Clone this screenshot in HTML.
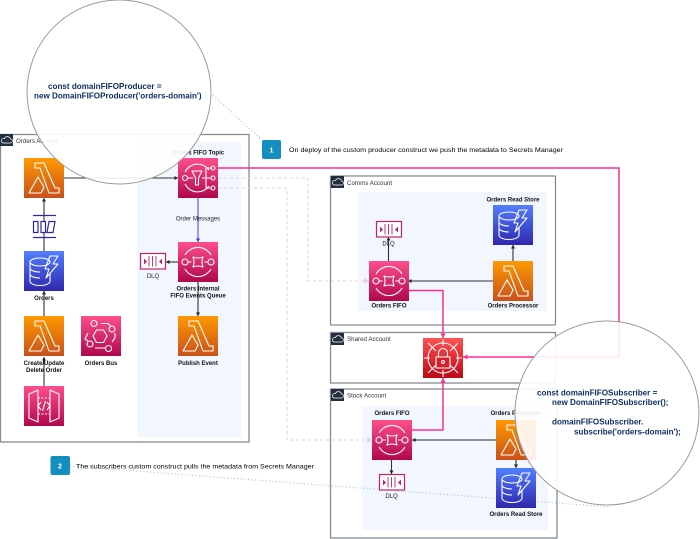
<!DOCTYPE html>
<html><head><meta charset="utf-8"><style>
html,body{margin:0;padding:0;background:#fff;width:700px;height:539px;overflow:hidden}
svg{display:block;filter:blur(.35px)}
text{font-family:"Liberation Sans",sans-serif;fill:#222}
.l{font-size:6px;font-weight:bold;text-anchor:middle;fill:#111}
.r{font-size:6px;text-anchor:middle;fill:#222}
.a{font-size:6.2px;fill:#333}
.n{font-size:6.6px;fill:#000}
.c{font-size:8.1px;font-weight:bold;fill:#0f2f66}
.box{fill:#fff;stroke:#868b92;stroke-width:1.300}
.pan{fill:#f2f6fe}
.k{stroke:#333;stroke-width:1.100;fill:none}
.p{stroke:#ff2f92;stroke-width:1.500;fill:none}
.d{stroke:#e0cfe8;stroke-width:1.100;fill:none;stroke-dasharray:3 3}
.b{stroke:#a4c0ee;stroke-width:1.200;fill:none;stroke-dasharray:1 2.500}
.g{fill:none;stroke:#fff;stroke-width:1.100;stroke-linejoin:round}
</style></head><body>
<svg width="700" height="539" viewBox="0 0 700 539" xmlns="http://www.w3.org/2000/svg">
<defs>
<linearGradient id="o" x1="0" y1="1" x2="0" y2="0"><stop offset="0" stop-color="#c8511b"/><stop offset="1" stop-color="#f90"/></linearGradient>
<linearGradient id="m" x1="0" y1="1" x2="0" y2="0"><stop offset="0" stop-color="#b0084d"/><stop offset="1" stop-color="#ff4f8b"/></linearGradient>
<linearGradient id="u" x1="0" y1="1" x2="0" y2="0"><stop offset="0" stop-color="#2e27ad"/><stop offset="1" stop-color="#527fff"/></linearGradient>
<linearGradient id="e" x1="0" y1="1" x2="0" y2="0"><stop offset="0" stop-color="#bd0816"/><stop offset="1" stop-color="#ff5252"/></linearGradient>
<g id="lam"><rect width="40" height="40" fill="url(#o)"/><path class="g" d="M11 5h9l11 25h4v5H25L16 10h-5z M14 19l6 10-3 6H5z"/></g>
<g id="dyn"><rect width="40" height="40" fill="url(#u)"/><g class="g"><ellipse cx="16" cy="11" rx="10" ry="4"/><path d="M6 11v6c0 2 4 4 10 4M6 17v6c0 2 4 4 10 4M6 23v7c0 2.500 4 4.500 10 4.500s10-2 10-4.500v-8"/><path d="M26 5h8l-5 8h5L22 27l3-9h-4z"/></g></g>
<g id="sns"><rect width="40" height="40" fill="url(#m)"/><g class="g"><path d="M31 12A14 14 0 0 0 7 14M7 26a14 14 0 0 0 24 2"/><circle cx="7" cy="20" r="2.500"/><circle cx="35" cy="10" r="2"/><circle cx="35" cy="20" r="2"/><circle cx="35" cy="30" r="2"/><path d="M10 20h5M24 20h9M28 10v20M28 10h5M28 30h5M14 13h10l-3.500 7v7h-3v-7z"/></g></g>
<g id="sqs"><rect width="40" height="40" fill="url(#m)"/><g class="g"><path d="M7 13a15 15 0 0 1 26 0M7 27a15 15 0 0 0 26 0"/><circle cx="7" cy="20" r="3"/><circle cx="33" cy="20" r="3"/><path d="M15 15q5 2 10 0q-2 5 0 10q-5-2-10 0q2-5 0-10z"/><path d="M10 20h3.500M26.500 20H30"/></g></g>
<g id="api"><rect width="40" height="40" fill="url(#m)"/><g class="g"><path d="M5 8l9-4v32l-9-4zM35 8l-9-4v32l9-4z"/><path d="M14 12h12M14 28h12" stroke-dasharray="2 1.500"/><path d="M17 16l-3 4 3 4M23 16l3 4-3 4M21.500 15l-3 10"/></g></g>
<g id="bus"><rect width="40" height="40" fill="url(#m)"/><g class="g"><path d="M15.500 14h7l3.500 6-3.500 6.500h-7L12 20z"/><circle cx="13" cy="7.500" r="3"/><circle cx="31" cy="13" r="3"/><circle cx="9" cy="28" r="3"/><circle cx="27.500" cy="32.500" r="3"/><path d="M20 7.500h7l3 3M34 17v5l-3 4M7 17l-3 6 3 2M14 32h10"/></g></g>
<g id="sec"><rect width="40" height="40" fill="url(#e)"/><g class="g"><circle cx="20" cy="20" r="15"/><path d="M20 1v7M20 32v7M1 20h6M33 20h6M5 5l8 8M35 5l-8 8M5 35l8-8M35 35l-8-8"/><rect x="13" y="19" width="14" height="11" fill="#d3222c"/><path d="M15.500 19v-4a4.500 4.500 0 0 1 9 0v4"/><circle cx="20" cy="24" r="1.400"/></g></g>
<g id="dlq"><rect x=".5" y=".5" width="25" height="15.500" fill="#fff" stroke="#c2245f" stroke-width="1.200"/><g stroke="#c2245f" stroke-width=".9" fill="none"><path d="M9 3v10.500M12.500 3v10.500M16 3v10.500"/></g><path d="M4 5.500l3 3-3 3zM22 5.500l-3 3 3 3z" fill="#c2245f"/></g>
<g id="cl"><rect width="13" height="12" fill="#232f3e"/><path d="M3 9h7.500a2 2 0 0 0 0-4 3.200 3.200 0 0 0-6-.5A2.300 2.300 0 0 0 3 9z" fill="none" stroke="#fff" stroke-width=".7"/></g>
<marker id="ak" markerWidth="5" markerHeight="5" refX="3.500" refY="2" orient="auto" markerUnits="userSpaceOnUse"><path d="M0 0l3.500 2L0 4z" fill="#222"/></marker>
<marker id="ab" markerWidth="5" markerHeight="5" refX="3.500" refY="2" orient="auto" markerUnits="userSpaceOnUse"><path d="M0 0l3.500 2L0 4z" fill="#3333cc"/></marker>
<marker id="ap" markerWidth="6" markerHeight="6" refX="4.500" refY="2.500" orient="auto" markerUnits="userSpaceOnUse"><path d="M0 0l4.500 2.500L0 5z" fill="#ff2f92"/></marker>
<marker id="ad" markerWidth="6" markerHeight="7" refX="5" refY="3" orient="auto" markerUnits="userSpaceOnUse"><path d="M0 0l5 3-5 3z" fill="#e0cfe8"/></marker>
</defs>

<rect class="box" x="0.500" y="134.500" width="248.500" height="307.500"/>
<rect class="pan" x="137" y="142" width="104" height="295"/>
<rect class="box" x="330.500" y="176" width="225" height="149" rx="1"/>
<rect class="pan" x="358" y="192" width="189" height="119"/>
<rect class="box" x="330.500" y="332.500" width="225" height="50.500"/>
<rect class="box" x="330.500" y="389" width="226.500" height="149"/>
<rect class="pan" x="362" y="406" width="186" height="124"/>
<use href="#cl" x="0" y="134"/><use href="#cl" x="331" y="176"/><use href="#cl" x="331" y="333"/><use href="#cl" x="331" y="389"/>
<text class="a" x="16" y="143">Orders Account</text>
<text class="a" x="347" y="185">Comms Account</text>
<text class="a" x="347" y="341">Shared Account</text>
<text class="a" x="347" y="397.500">Stock Account</text>

<!-- connectors -->
<path class="k" d="M64 178H178" marker-end="url(#ak)"/>
<path class="k" d="M44 251V198" marker-end="url(#ak)"/>
<path class="k" d="M44 316V291" marker-end="url(#ak)"/>
<path class="k" d="M44 386V357" marker-end="url(#ak)"/>
<path d="M198 198V242" stroke="#3d3dd0" stroke-width="1" fill="none" marker-end="url(#ab)"/>
<path class="k" d="M178 262H166" marker-end="url(#ak)"/>
<path class="k" d="M198 282V316" marker-end="url(#ak)"/>
<path class="k" d="M388.500 261V237" marker-end="url(#ak)"/>
<path class="k" d="M493 281H408" marker-end="url(#ak)"/>
<path class="k" d="M513 261V245" marker-end="url(#ak)"/>
<path class="k" d="M496 440H412" marker-end="url(#ak)"/>
<path class="k" d="M391.500 460V474" marker-end="url(#ak)"/>
<path class="k" d="M516 460V468" marker-end="url(#ak)"/>
<path class="p" d="M218 168H619V357H463" marker-end="url(#ap)"/>
<path class="p" d="M408 290.500H443V338" marker-end="url(#ap)"/>
<path class="p" d="M412 430H443V378" marker-end="url(#ap)"/>
<path class="d" d="M218 178H308V281H369" marker-end="url(#ad)"/>
<path class="d" d="M218 188H287V440H372" marker-end="url(#ad)"/>
<path class="b" d="M213 95L262 140"/>
<path class="b" d="M70 466L610 507"/>

<!-- icons -->
<use href="#lam" x="24" y="158"/>
<g stroke="#2e27ad" fill="none" stroke-width="1.200"><path d="M33 215.500H56M33 237.500H56"/><rect x="33.500" y="221.500" width="4.500" height="11" fill="#fff"/><rect x="41" y="221.500" width="4.500" height="11" fill="#fff"/><path d="M49 221.500h6l-2 11h-6z" fill="#fff"/></g>
<use href="#dyn" x="24" y="251"/>
<use href="#lam" x="24" y="316"/>
<use href="#bus" x="81" y="316"/>
<use href="#api" x="24" y="386"/>
<use href="#sns" x="178" y="158"/>
<use href="#sqs" x="178" y="242"/>
<use href="#dlq" x="140" y="253"/>
<use href="#lam" x="178" y="316"/>
<use href="#dlq" x="376" y="221"/>
<use href="#sqs" x="369" y="261"/>
<use href="#dyn" x="493" y="205"/>
<use href="#lam" x="493" y="261"/>
<use href="#sec" x="423" y="338"/>
<use href="#sqs" x="372" y="420"/>
<use href="#dlq" x="379" y="474"/>
<use href="#lam" x="496" y="420"/>
<use href="#dyn" x="496" y="468"/>

<!-- labels -->
<text class="l" x="198" y="154.500">Orders FIFO Topic</text>
<text class="r" x="198" y="220.500">Order Messages</text>
<text class="r" x="153" y="278">DLQ</text>
<text class="l" x="198" y="290.500">Orders Internal</text>
<text class="l" x="198" y="297.500">FIFO Events Queue</text>
<text class="l" x="198" y="365">Publish Event</text>
<text class="l" x="44" y="300">Orders</text>
<text class="l" x="44" y="365">Create/Update</text>
<text class="l" x="44" y="372">Delete Order</text>
<text class="l" x="101" y="365">Orders Bus</text>
<text class="r" x="388.500" y="245.500">DLQ</text>
<text class="l" x="513" y="201.500">Orders Read Store</text>
<text class="l" x="389" y="307.500">Orders FIFO</text>
<text class="l" x="513" y="307.500">Orders Processor</text>
<text class="l" x="392" y="415">Orders FIFO</text>
<text class="l" x="516" y="415">Orders Processor</text>
<text class="r" x="391.500" y="498">DLQ</text>
<text class="l" x="516" y="516">Orders Read Store</text>

<!-- badges -->
<rect x="262" y="140" width="19" height="19" rx="2" fill="#148ebf"/>
<text x="271.500" y="152.500" style="font-size:7px;font-weight:bold;fill:#fff;text-anchor:middle">1</text>
<text class="n" x="289" y="152" textLength="274" lengthAdjust="spacingAndGlyphs">On deploy of the custom producer construct we push the metadata to Secrets Manager</text>
<rect x="50.500" y="456" width="19.500" height="19" rx="2" fill="#148ebf"/>
<text x="60" y="468.500" style="font-size:7px;font-weight:bold;fill:#fff;text-anchor:middle">2</text>
<text class="n" x="76" y="468.500" textLength="238" lengthAdjust="spacingAndGlyphs">The subscribers custom construct pulls the metadata from Secrets Manager</text>

<!-- magnifier circles -->
<circle cx="119" cy="92" r="92" fill="#fff" fill-opacity=".9" stroke="#9a9a9a" stroke-width="1"/>
<text class="c" x="48" y="89">const domainFIFOProducer =</text>
<text class="c" x="34" y="98.500">new DomainFIFOProducer('orders-domain')</text>
<circle cx="607" cy="413" r="92" fill="#fff" fill-opacity=".9" stroke="#9a9a9a" stroke-width="1"/>
<text class="c" x="537" y="395.500">const domainFIFOSubscriber =</text>
<text class="c" x="552" y="405">new DomainFIFOSubscriber();</text>
<text class="c" x="552" y="424.500">domainFIFOSubscriber.</text>
<text class="c" x="574" y="434.500">subscribe('orders-domain');</text>
</svg>
</body></html>
